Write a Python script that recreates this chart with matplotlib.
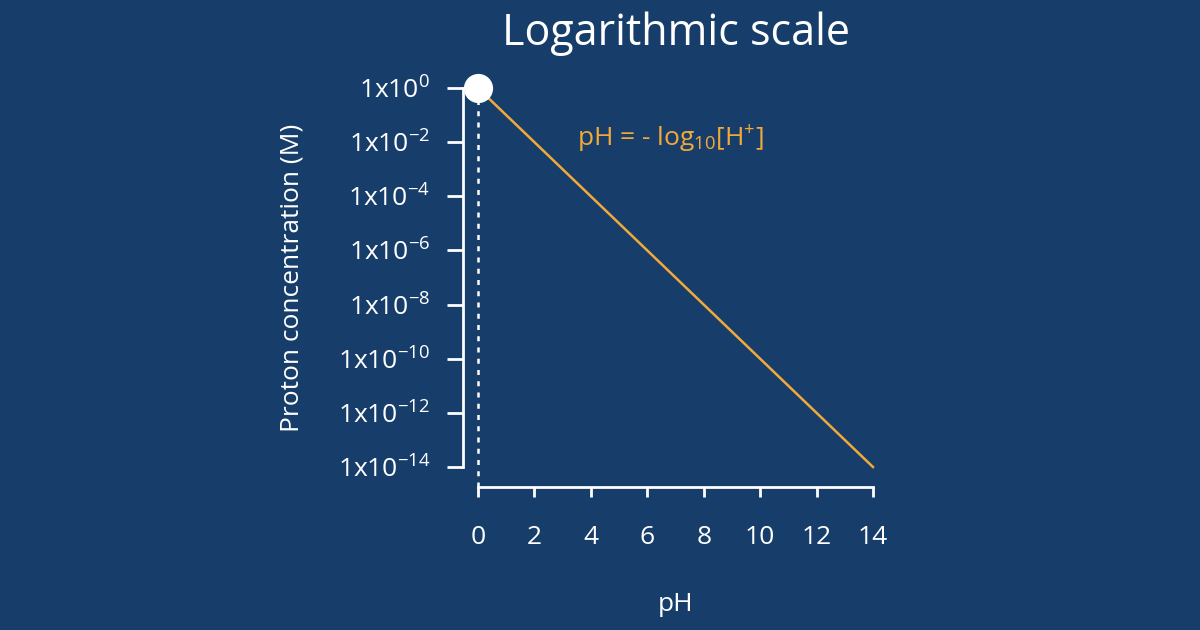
import matplotlib.pyplot as plt

bg = "#173e6a"
orange = "#f2a93b"
plt.rcParams["font.family"] = ["Open Sans", "DejaVu Sans"]
plt.rcParams["mathtext.fontset"] = "custom"
plt.rcParams["mathtext.rm"] = "Open Sans"
plt.rcParams["mathtext.it"] = "Open Sans"
plt.rcParams["axes.unicode_minus"] = False

ph_values = [0, 14]
conc_values = [1e0, 1e-14]
x_ticks = [0, 2, 4, 6, 8, 10, 12, 14]
y_exponents = [0, -2, -4, -6, -8, -10, -12, -14]

fig = plt.figure(figsize=(12, 6.3), dpi=100, facecolor=bg)
ax = fig.add_axes([0.3983, 0.2587, 0.3292, 0.6016], facecolor=bg)

ax.plot(ph_values, conc_values, color=orange, lw=1.8, clip_on=False)
ax.axvline(0, ymin=-0.053, ymax=1, color="white", ls=(0, (2, 2.5)), lw=1.8, clip_on=False)
ax.plot([ph_values[0]], [conc_values[0]], "o", color="white", ms=20, clip_on=False, zorder=5)

ax.set_yscale("log")
ax.set_xlim(0, 14)
ax.set_ylim(1e-14, 1e0)
ax.set_xticks(x_ticks)
ax.set_yticks([10.0 ** e for e in y_exponents])
ax.set_yticklabels([rf"1x10$^{{{e}}}$" for e in y_exponents])
ax.minorticks_off()

for s in ["top", "right"]:
    ax.spines[s].set_visible(False)
ax.spines["left"].set_position(("outward", 10.8))
ax.spines["bottom"].set_position(("outward", 14.4))
for s in ["left", "bottom"]:
    ax.spines[s].set_color("white")
    ax.spines[s].set_linewidth(2)
ax.tick_params(axis="y", colors="white", length=11.5, width=2, pad=12, labelsize=19)
ax.tick_params(axis="x", colors="white", length=7.5, width=2, pad=20, labelsize=19)

ax.set_xlabel("pH", color="white", fontsize=19, labelpad=30)
ax.set_ylabel("Proton concentration (M)", color="white", fontsize=19, labelpad=24)
fig.text(0.563, 0.947, "Logarithmic scale", color="white", fontsize=31, ha="center", va="center")
ax.text(3.5, 10.0 ** -1.9, r"pH = - log$_{10}$[H$^{+}$]", color=orange, fontsize=19, va="center")

fig.savefig("out.png", facecolor=bg)
